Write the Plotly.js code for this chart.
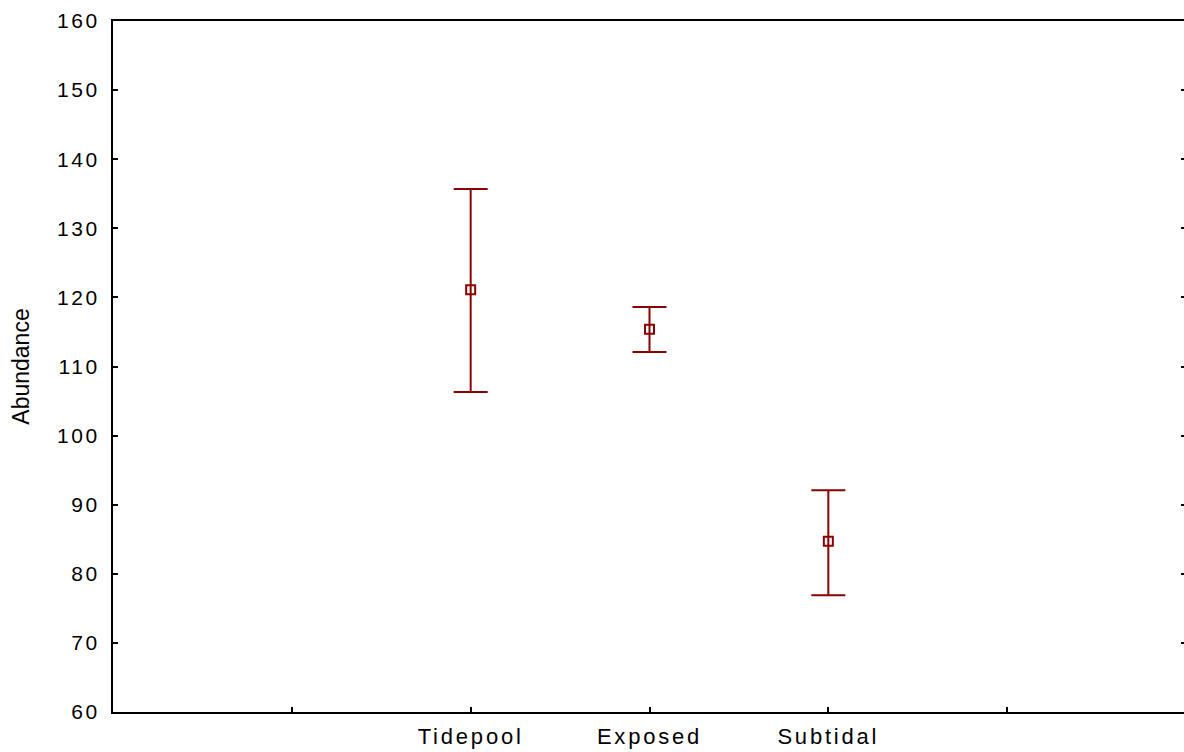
<!DOCTYPE html>
<html>
<head>
<meta charset="utf-8">
<script src="https://cdn.plot.ly/plotly-3.0.1.min.js"></script>
<style>
html, body { margin: 0; padding: 0; overflow: hidden; background: #fff; }
#chart { width: 1192px; height: 752px; }
.xtick text { letter-spacing: 2.8px; }
.ytick text { letter-spacing: 2.6px; }
</style>
</head>
<body>
<div id="chart"></div>
<script>
const categories = ["Tidepool", "Exposed", "Subtidal"];
const means = [121.1, 115.4, 84.7];
const upper = [135.7, 118.6, 92.1];
const lower = [106.3, 112.1, 76.9];

const xIdx = categories.map((c, i) => i);
const errPlus = means.map((m, i) => upper[i] - m);
const errMinus = means.map((m, i) => m - lower[i]);

const darkRed = "#8b0000";

const trace = {
  type: "scatter",
  mode: "markers",
  x: xIdx,
  y: means,
  marker: { symbol: "square-open", size: 9, color: darkRed, line: { width: 2, color: darkRed } },
  error_y: {
    type: "data",
    symmetric: false,
    array: errPlus,
    arrayminus: errMinus,
    color: darkRed,
    thickness: 2,
    width: 17
  },
  hoverinfo: "skip",
  showlegend: false
};

const layout = {
  width: 1192,
  height: 752,
  margin: { l: 113, r: 6, t: 21, b: 40 },
  paper_bgcolor: "#fff",
  plot_bgcolor: "#fff",
  font: { family: "Liberation Sans, Arial, sans-serif", size: 20, color: "#000" },
  xaxis: {
    range: [-2, 4],
    tickmode: "array",
    tickvals: [-1, 0, 1, 2, 3],
    ticktext: ["", categories[0], categories[1], categories[2], ""],
    ticks: "inside",
    ticklen: 5,
    tickwidth: 2,
    tickcolor: "#000",
    showline: true,
    linewidth: 2,
    linecolor: "#000",
    mirror: true,
    showgrid: false,
    zeroline: false,
    tickfont: { size: 22 },
    ticklabelstandoff: 4,
    fixedrange: true
  },
  yaxis: {
    range: [60, 160],
    tickmode: "linear",
    tick0: 60,
    dtick: 10,
    ticks: "inside",
    ticklen: 5,
    tickwidth: 2,
    tickcolor: "#000",
    showline: true,
    linewidth: 2,
    linecolor: "#000",
    mirror: "ticks",
    showgrid: false,
    zeroline: false,
    tickfont: { size: 21 },
    ticklabelstandoff: 7,
    title: { text: "Abundance", font: { family: "Liberation Sans Narrow, Arial Narrow, sans-serif", size: 23 }, standoff: 21 },
    fixedrange: true
  }
};

Plotly.newPlot("chart", [trace], layout, { displayModeBar: false, staticPlot: true });
</script>
</body>
</html>
